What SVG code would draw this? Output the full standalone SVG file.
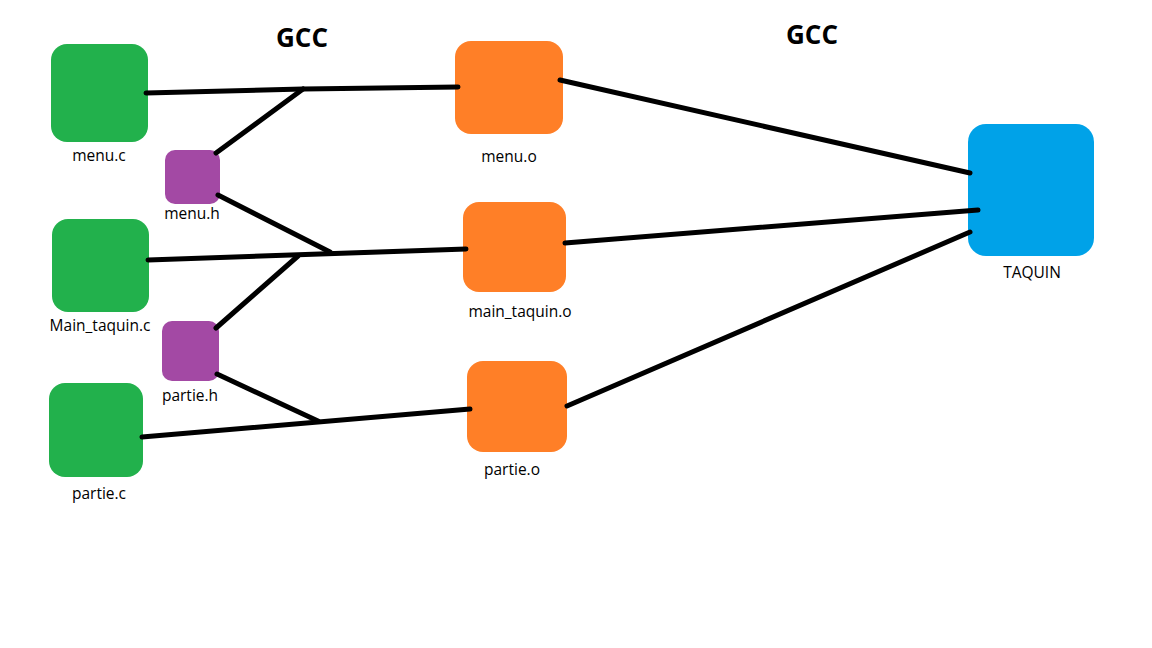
<svg xmlns="http://www.w3.org/2000/svg" width="1152" height="648" viewBox="0 0 1152 648">
<style>
.c{fill:#22b14c}.h{fill:#a349a4}.o{fill:#ff7f27}.t{fill:#00a2e8}
.lbl{font-family:"Open Sans","Noto Sans",sans-serif;font-size:15.5px;fill:#000;text-anchor:middle}
.gcc{font-family:"Open Sans","Noto Sans",sans-serif;font-size:26px;font-weight:bold;fill:#000;text-anchor:middle}
.e{stroke:#000;stroke-width:5;stroke-linecap:round;fill:none}
</style>
<rect width="1152" height="648" fill="#fff"/>
<text class="gcc" x="302" y="47">GCC</text>
<text class="gcc" x="812" y="44">GCC</text>
<g id="menu_c"><rect class="c" x="51" y="44" width="97" height="98" rx="16"/><text class="lbl" x="99" y="161">menu.c</text></g>
<g id="menu_h"><rect class="h" x="165" y="150" width="55" height="54" rx="10"/><text class="lbl" x="192" y="219">menu.h</text></g>
<g id="main_taquin_c"><rect class="c" x="52" y="219" width="97" height="93" rx="16"/><text class="lbl" x="100" y="331">Main_taquin.c</text></g>
<g id="partie_h"><rect class="h" x="162" y="321" width="57" height="60" rx="10"/><text class="lbl" x="190" y="401">partie.h</text></g>
<g id="partie_c"><rect class="c" x="49" y="383" width="94" height="94" rx="16"/><text class="lbl" x="99" y="499">partie.c</text></g>
<g id="menu_o"><rect class="o" x="455" y="41" width="108" height="93" rx="16"/><text class="lbl" x="509" y="162">menu.o</text></g>
<g id="main_taquin_o"><rect class="o" x="463" y="202" width="103" height="90" rx="16"/><text class="lbl" x="520" y="317">main_taquin.o</text></g>
<g id="partie_o"><rect class="o" x="467" y="361" width="100" height="91" rx="16"/><text class="lbl" x="512" y="475">partie.o</text></g>
<g id="taquin"><rect class="t" x="968" y="124" width="126" height="132" rx="18"/><text class="lbl" x="1032" y="278">TAQUIN</text></g>
<g id="connectors">
<polyline class="e" points="146,93 303,89 458,87"/>
<line class="e" x1="216" y1="153" x2="303" y2="89"/>
<line class="e" x1="218" y1="195" x2="330" y2="252"/>
<line class="e" x1="148" y1="260" x2="466" y2="249"/>
<line class="e" x1="216" y1="328" x2="298" y2="256"/>
<line class="e" x1="217" y1="374" x2="318" y2="421"/>
<line class="e" x1="142" y1="437" x2="470" y2="409"/>
<line class="e" x1="560" y1="80" x2="970" y2="173"/>
<line class="e" x1="565" y1="243" x2="978" y2="210"/>
<line class="e" x1="567" y1="406" x2="970" y2="232"/>
</g>
</svg>
